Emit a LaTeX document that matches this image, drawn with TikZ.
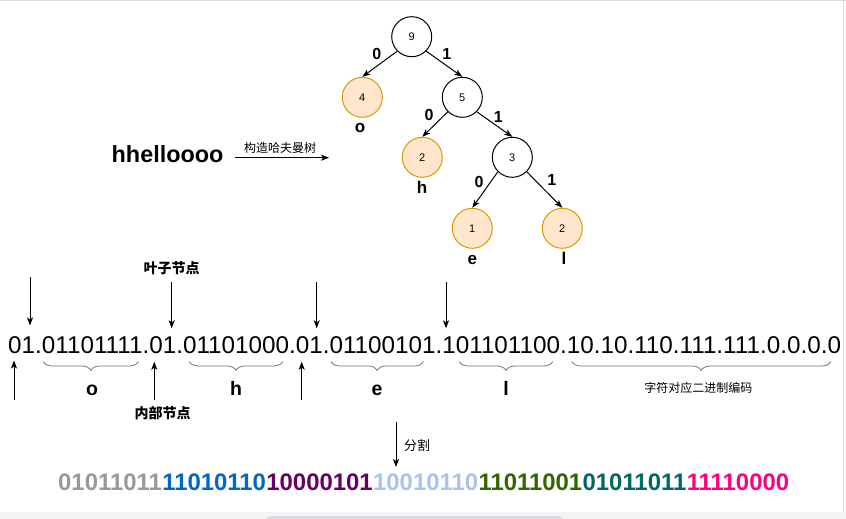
\documentclass[tikz,border=0pt]{standalone}
\usepackage{fontspec}
\setmainfont{Liberation Sans}
\newfontfamily\cjk{Noto Sans CJK SC}
\usetikzlibrary{arrows.meta, decorations.pathreplacing}
\definecolor{leafFill}{HTML}{FFE6CC}
\definecolor{leafLine}{HTML}{D79B00}
\definecolor{cGray}{HTML}{999999}
\definecolor{cBlue}{HTML}{0066CC}
\definecolor{cPurple}{HTML}{660066}
\definecolor{cSky}{HTML}{A9C4EB}
\definecolor{cGreen}{HTML}{336600}
\definecolor{cTeal}{HTML}{006666}
\definecolor{cPink}{HTML}{FF0080}
\definecolor{scrLine}{HTML}{DADCE0}
\definecolor{scrBack}{HTML}{F1F3F4}
\tikzset{
  inner/.style = {circle, draw, line width=1pt, minimum size=40, inner sep=0, font=\fontsize{11}{11}\selectfont},
  leaf/.style = {inner, draw=leafLine, fill=leafFill},
  sym/.style = {inner sep=0, anchor=base, font=\bfseries\fontsize{17}{17}\selectfont},
  bit/.style = {inner sep=0, font=\bfseries\fontsize{16}{16}\selectfont},
  arr/.style = {-{Stealth[length=8pt, width=6pt, inset=2pt]}, line width=1pt},
  brc/.style = {decorate, decoration={brace, mirror, amplitude=9pt}, draw=black!55, line width=0.8pt},
  note/.style = {inner sep=0, font=\cjk\fontsize{12}{12}\selectfont},
  bnote/.style = {inner sep=0, font=\cjk\bfseries\fontsize{14}{14}\selectfont},
  code/.style = {inner sep=0, anchor=base west, font=\bfseries\fontsize{23.9}{23.9}\selectfont}
}

\begin{document}
\begin{tikzpicture}[x=1pt, y=-1pt]
		\useasboundingbox (0,0) rectangle (846,519);
		%%%%%%%%%%%%% window edges
		\fill[scrBack] (0,511.5) rectangle (846,519);
		\fill[scrLine, rounded corners=4pt] (266.5,516) rectangle (563,523);
		\draw[scrLine, line width=1.5pt] (0,0.5) -- (846,0.5);
		\draw[scrLine, line width=1.5pt] (843.5,0) -- (843.5,511.5);
		%%%%%%%%%%%%% tree
		\node[inner] (n9) at (411.7, 36.7) {9};
		\node[leaf] (n4) at (362.3, 97.3) {4};
		\node[inner] (n5) at (462.3, 97.3) {5};
		\node[leaf] (nh) at (422.3, 157.3) {2};
		\node[inner] (n3) at (512.3, 157.3) {3};
		\node[leaf] (ne) at (472.3, 228.3) {1};
		\node[leaf] (nl) at (562.3, 228.3) {2};
		\draw[arr] (n9.south west) -- (n4.north);
		\draw[arr] (n9.south east) -- (n5.north);
		\draw[arr] (n5.south west) -- (nh.north);
		\draw[arr] (n5.south east) -- (n3.north);
		\draw[arr] (n3.south west) -- (ne.north);
		\draw[arr] (n3.south east) -- (nl.north);
		\node[bit] (b94) at (376.7, 54) {0};
		\node[bit] (b95) at (446.7, 53.5) {1};
		\node[bit] (b5h) at (429, 115) {0};
		\node[bit] (b53) at (498.3, 116.7) {1};
		\node[bit] (b3e) at (479, 181.7) {0};
		\node[bit] (b3l) at (551.7, 180) {1};
		\node[sym] (so) at (360, 132.7) {o};
		\node[sym] (sh) at (422, 193.3) {h};
		\node[sym] (se) at (472.3, 264.5) {e};
		\node[sym] (sl) at (564, 264.5) {l};
		%%%%%%%%%%%%% input word
		\node[inner sep=0, anchor=base west, font=\bfseries\fontsize{23.4}{23.4}\selectfont] (word) at (111.5, 162.7) {hhelloooo};
		\coordinate (w1) at (235, 157.7);
		\coordinate (w2) at (329, 157.7);
		\draw[arr] (w1) -- (w2);
		\node[note] (build) at (280, 148.3) {构造哈夫曼树};
		%%%%%%%%%%%%% encoded string
		\node[inner sep=0, anchor=base west, font=\fontsize{24.25}{24.25}\selectfont] (enc) at (8, 353.3) {01.01101111.01.01101000.01.01100101.101101100.10.10.110.111.111.0.0.0.0};
		\node[bnote] (leafTxt) at (171.7, 268.3) {叶子节点};
		\node[bnote] (innerTxt) at (162.5, 413.3) {内部节点};
		\coordinate (d1a) at (30, 277);   \coordinate (d1b) at (30, 325.5);
		\coordinate (d2a) at (171.7, 282); \coordinate (d2b) at (171.7, 328.3);
		\coordinate (d3a) at (316.7, 282); \coordinate (d3b) at (316.7, 328.3);
		\coordinate (d4a) at (446, 282);   \coordinate (d4b) at (446, 328.3);
		\draw[arr] (d1a) -- (d1b); \draw[arr] (d2a) -- (d2b);
		\draw[arr] (d3a) -- (d3b); \draw[arr] (d4a) -- (d4b);
		\coordinate (u1a) at (14, 400);    \coordinate (u1b) at (14, 360.5);
		\coordinate (u2a) at (154.3, 400); \coordinate (u2b) at (154.3, 361.7);
		\coordinate (u3a) at (301.7, 400); \coordinate (u3b) at (301.7, 361.7);
		\draw[arr] (u1a) -- (u1b); \draw[arr] (u2a) -- (u2b); \draw[arr] (u3a) -- (u3b);
		%%%%%%%%%%%%% braces
		\draw[brc] (43.3, 361.5) -- (138.3, 361.5);
		\draw[brc] (189.3, 361.5) -- (282.7, 361.5);
		\draw[brc] (331, 361.5) -- (423.3, 361.5);
		\draw[brc] (459.3, 361.5) -- (552.7, 361.5);
		\draw[brc] (571.7, 361.5) -- (830.7, 361.5);
		\node[sym, font=\bfseries\fontsize{19.5}{19.5}\selectfont] (bo) at (92, 395) {o};
		\node[sym, font=\bfseries\fontsize{19.5}{19.5}\selectfont] (bh) at (236, 395) {h};
		\node[sym, font=\bfseries\fontsize{19.5}{19.5}\selectfont] (be) at (377, 395) {e};
		\node[sym, font=\bfseries\fontsize{19.5}{19.5}\selectfont] (bl) at (506, 395) {l};
		\node[note] (codeTxt) at (698.3, 387.7) {字符对应二进制编码};
		%%%%%%%%%%%%% split
		\coordinate (s1) at (396, 422);
		\coordinate (s2) at (396, 467);
		\draw[arr] (s1) -- (s2);
		\node[note, font=\cjk\fontsize{13}{13}\selectfont] (split) at (417, 446) {分割};
		\node[code, text=cGray] (g1) at (58, 490) {01011011};
		\node[code, text=cBlue] (g2) at (g1.base east) {11010110};
		\node[code, text=cPurple] (g3) at (g2.base east) {10000101};
		\node[code, text=cSky] (g4) at (g3.base east) {10010110};
		\node[code, text=cGreen] (g5) at (g4.base east) {11011001};
		\node[code, text=cTeal] (g6) at (g5.base east) {01011011};
		\node[code, text=cPink] (g7) at (g6.base east) {11110000};
\end{tikzpicture}
\end{document}
